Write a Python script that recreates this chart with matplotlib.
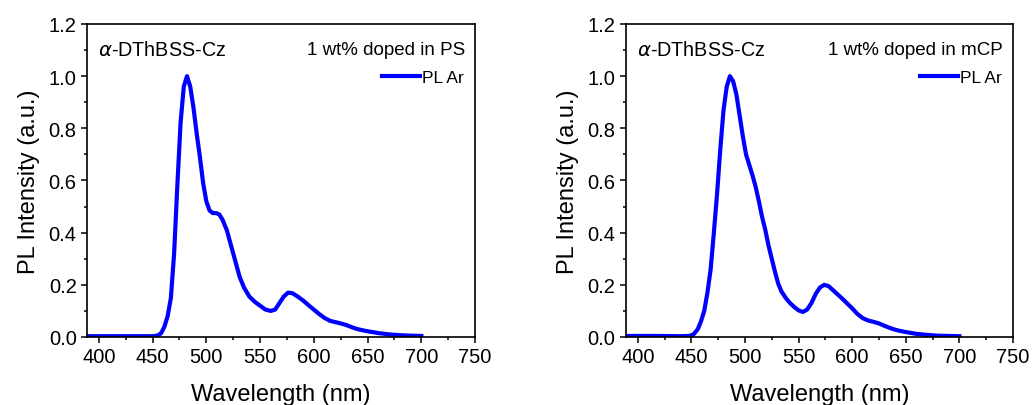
import numpy as np
import matplotlib
matplotlib.use("Agg")
import matplotlib.pyplot as plt
from matplotlib.ticker import AutoMinorLocator, FormatStrFormatter

plt.rcParams['font.family'] = ['Liberation Sans', 'DejaVu Sans']

# 1 wt% doped in PS
wl_ps = [390, 400, 420, 440, 450, 455, 458, 461, 464, 467, 470, 473, 476, 479, 482,
         485, 488, 491, 494, 497, 500, 503, 506, 509, 512, 515, 519, 523, 527, 531,
         535, 540, 545, 550, 555, 560, 564, 568, 572, 576, 580, 585, 590, 595, 600,
         605, 610, 615, 620, 625, 630, 635, 640, 645, 650, 660, 670, 680, 690, 700]
pl_ps = [0.003, 0.003, 0.003, 0.003, 0.003, 0.006, 0.015, 0.04, 0.08, 0.15, 0.32, 0.58, 0.82, 0.96, 1.0,
         0.96, 0.88, 0.78, 0.69, 0.59, 0.52, 0.485, 0.475, 0.475, 0.47, 0.45, 0.41, 0.35, 0.29, 0.23,
         0.19, 0.155, 0.135, 0.12, 0.105, 0.1, 0.105, 0.13, 0.155, 0.17, 0.168, 0.155, 0.14, 0.122, 0.105,
         0.088, 0.073, 0.062, 0.057, 0.052, 0.046, 0.038, 0.031, 0.026, 0.022, 0.015, 0.01, 0.007, 0.005, 0.004]

# 1 wt% doped in mCP
wl_mcp = [390, 400, 420, 440, 448, 452, 456, 459, 462, 465, 468, 471, 474, 477, 480,
          483, 486, 489, 492, 495, 498, 501, 504, 507, 510, 513, 516, 519, 522, 525,
          528, 531, 534, 538, 542, 546, 550, 554, 558, 562, 566, 570, 574, 578, 582,
          586, 590, 595, 600, 605, 610, 615, 620, 625, 630, 635, 640, 645, 650, 660,
          670, 680, 690, 700]
pl_mcp = [0.004, 0.004, 0.004, 0.003, 0.004, 0.01, 0.03, 0.06, 0.1, 0.17, 0.26, 0.4, 0.55, 0.72, 0.87,
          0.96, 1.0, 0.98, 0.93, 0.85, 0.77, 0.70, 0.66, 0.62, 0.575, 0.52, 0.46, 0.41, 0.35, 0.3,
          0.25, 0.205, 0.175, 0.15, 0.13, 0.115, 0.102, 0.096, 0.105, 0.13, 0.165, 0.19, 0.2, 0.195, 0.18,
          0.165, 0.15, 0.13, 0.11, 0.088, 0.072, 0.063, 0.058, 0.052, 0.043, 0.035, 0.028, 0.023, 0.019, 0.012,
          0.008, 0.005, 0.004, 0.003]

compound = r'$\alpha$-DThBSS-Cz'
hosts = ['1 wt% doped in PS', '1 wt% doped in mCP']
x_ticks = [400, 450, 500, 550, 600, 650, 700, 750]
y_ticks = [0.0, 0.2, 0.4, 0.6, 0.8, 1.0, 1.2]


def pl_panel(ax, wl, pl, host):
  ax.plot(wl, pl, '-', color='#0000ff', linewidth=3.0, label='PL Ar')
  ax.set_xlim(389, 750)
  ax.set_ylim(0, 1.2)
  ax.set_xticks(x_ticks)
  ax.set_yticks(y_ticks)
  ax.yaxis.set_major_formatter(FormatStrFormatter('%.1f'))
  ax.xaxis.set_minor_locator(AutoMinorLocator(2))
  ax.yaxis.set_minor_locator(AutoMinorLocator(2))
  ax.tick_params(which='major', direction='out', length=4, width=1.1, labelsize=14.5, pad=3.5)
  ax.tick_params(which='minor', direction='out', length=2.5, width=1.1)
  for s in ax.spines.values():
    s.set_linewidth(1.2)
  ax.set_xlabel('Wavelength (nm)', fontsize=17, labelpad=12)
  ax.set_ylabel('PL Intensity (a.u.)', fontsize=17, labelpad=6)
  ax.text(0.028, 0.92, compound, transform=ax.transAxes, fontsize=14.2, ha='left', va='center')
  ax.text(0.974, 0.92, host, transform=ax.transAxes, fontsize=13.5, ha='right', va='center')
  ax.legend(loc='center right', bbox_to_anchor=(0.97, 0.83), frameon=False, fontsize=12.5,
            handlelength=2.2, handletextpad=0.1, borderpad=0, borderaxespad=0)


fig = plt.figure(figsize=(10.35, 4.06), dpi=100)
ax1 = fig.add_axes([0.0841, 0.1675, 0.3749, 0.771])
pl_panel(ax1, wl_ps, pl_ps, hosts[0])
ax2 = fig.add_axes([0.6048, 0.1675, 0.3739, 0.771])
pl_panel(ax2, wl_mcp, pl_mcp, hosts[1])

fig.savefig('out.png', dpi=100)
